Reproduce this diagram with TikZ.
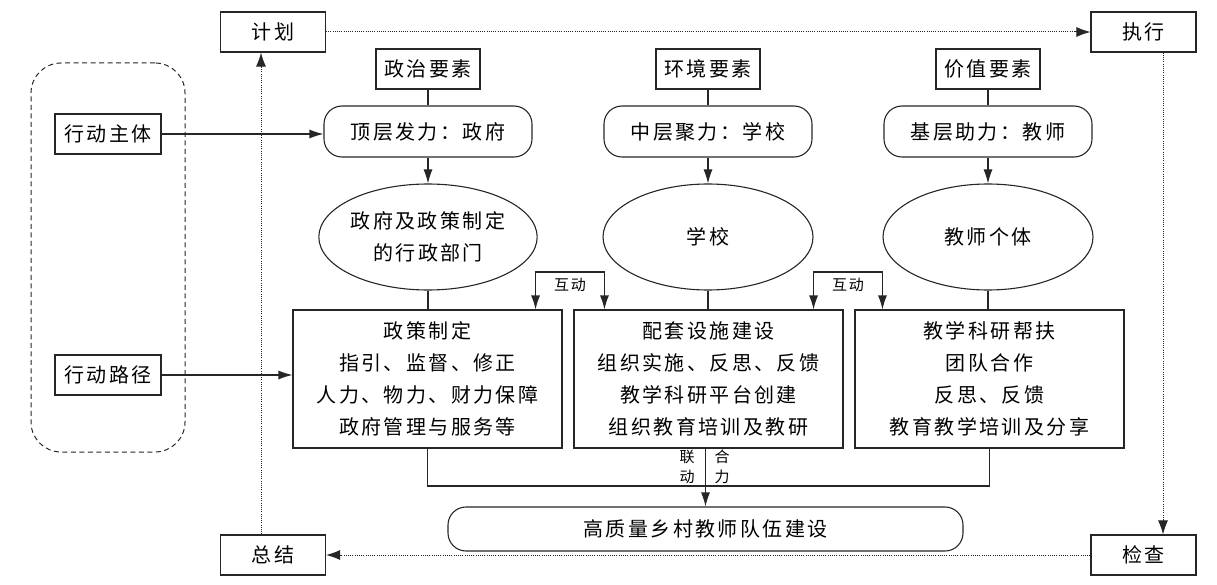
\documentclass[tikz,border=0pt]{standalone}
\usepackage{fontspec}
\newfontfamily\cjk[LetterSpace=12]{Noto Sans CJK SC}
\usetikzlibrary{arrows.meta,shapes.geometric,calc}
\begin{document}
\begin{tikzpicture}[x=1pt,y=-1pt,
  every node/.style={font=\cjk\fontsize{20}{32}\selectfont, inner sep=0pt, align=center, text=black},
  base/.style={draw=black!85, line width=1.1pt},
  sqbox/.style={base, rectangle, minimum width=105pt, minimum height=40pt},
  rbox/.style={base, rectangle, rounded corners=18pt, minimum width=208pt, minimum height=51pt},
  ellbox/.style={base, ellipse, minimum width=210pt, minimum height=106pt},
  bigbox/.style={base, rectangle, minimum width=269pt, minimum height=138pt},
  small/.style={font=\cjk\fontsize{15}{20}\selectfont},
  ln/.style={draw=black!85, line width=1.1pt},
  arr/.style={ln, -{Latex[length=14pt,width=9pt]}},
  dotline/.style={draw=black!85, line width=1pt, dash pattern=on 1pt off 1.2pt},
  tiparr/.style={draw=black!85, line width=1pt, solid, -{Latex[length=14pt,width=10pt]}},
]
\useasboundingbox (0,0) rectangle (1217,585);

% cycle boxes
\node[sqbox] (jh) at (273,32) {计划};
\node[sqbox] (zx) at (1143.5,32) {执行};
\node[sqbox] (zj) at (273,555) {总结};
\node[sqbox] (jc) at (1143.5,555) {检查};

% left group
\node[draw=black!85, line width=1pt, dash pattern=on 5pt off 3.5pt, rounded corners=30pt, minimum width=154pt, minimum height=389pt] (grp) at (108,257.5) {};
\node[sqbox, minimum width=106pt] (zt) at (108,134) {行动主体};
\node[sqbox, minimum width=106pt] (lj) at (108,375) {行动路径};

% elements
\node[sqbox, minimum width=104pt] (e1) at (428,69) {政治要素};
\node[sqbox, minimum width=104pt] (e2) at (708,69) {环境要素};
\node[sqbox, minimum width=104pt] (e3) at (988,69) {价值要素};

\node[rbox] (r1) at (428,131.5) {顶层发力：政府};
\node[rbox] (r2) at (708,131.5) {中层聚力：学校};
\node[rbox] (r3) at (988,131.5) {基层助力：教师};

\node[ellbox] (o1) at (428,237) {政府及政策制定\\的行政部门};
\node[ellbox] (o2) at (708,237) {学校};
\node[ellbox] (o3) at (988,237) {教师个体};

\node[bigbox] (b1) at (427.5,379) {政策制定\\指引、监督、修正\\人力、物力、财力保障\\政府管理与服务等};
\node[bigbox] (b2) at (708.5,379) {配套设施建设\\组织实施、反思、反馈\\教学科研平台创建\\组织教育培训及教研};
\node[bigbox] (b3) at (989.5,379) {教学科研帮扶\\团队合作\\反思、反馈\\教育教学培训及分享};

\node[base, rectangle, rounded corners=18pt, minimum width=515pt, minimum height=44pt] (gz) at (705.5,529) {高质量乡村教师队伍建设};

% cycle connectors (dotted line + solid tip)
\coordinate (pa1) at (jh.east);  \coordinate (pb1) at (zx.west);
\coordinate (pa2) at ([xshift=19.5pt]zx.south); \coordinate (pb2) at ([xshift=19.5pt]jc.north);
\coordinate (pa3) at (jc.west);  \coordinate (pb3) at (zj.east);
\coordinate (pa4) at ([xshift=-12pt]zj.north); \coordinate (pb4) at ([xshift=-12pt]jh.south);
\foreach \k in {1,2,3,4}{
  \draw[dotline] (pa\k) -- ($(pb\k)!10pt!(pa\k)$);
  \draw[tiparr] ($(pb\k)!15pt!(pa\k)$) -- (pb\k);
}

% left arrows
\draw[arr] (zt.east) -- (zt.east -| r1.west);
\draw[arr] (lj.east) -- (lj.east -| b1.west);

% columns
\foreach \i in {1,2,3}{
  \draw[ln] (e\i.south) -- (r\i.north);
  \draw[arr] (r\i.south) -- (o\i.north);
  \draw[ln] (o\i.south) -- (o\i.south |- b\i.north);
}

% interaction
\coordinate (t1) at (570,272);
\coordinate (t2) at (848,272);
\draw[arr] (t1) -| ([xshift=-27pt]b1.north east);
\draw[arr] (t1) -| ([xshift=31pt]b2.north west);
\draw[arr] (t2) -| ([xshift=-30pt]b2.north east);
\draw[arr] (t2) -| ([xshift=28pt]b3.north west);
\node[small] (hd1) at (570,285) {互动};
\node[small] (hd2) at (848,285) {互动};

% bottom merge
\coordinate (jn) at (705,486);
\draw[ln] (b1.south) |- (jn) -| (b3.south);
\draw[arr] (b2.south -| gz.north) -- (gz.north);
\node[small] (ld) at (687,467) {联\\动};
\node[small] (hl) at (722,467) {合\\力};
\end{tikzpicture}
\end{document}
